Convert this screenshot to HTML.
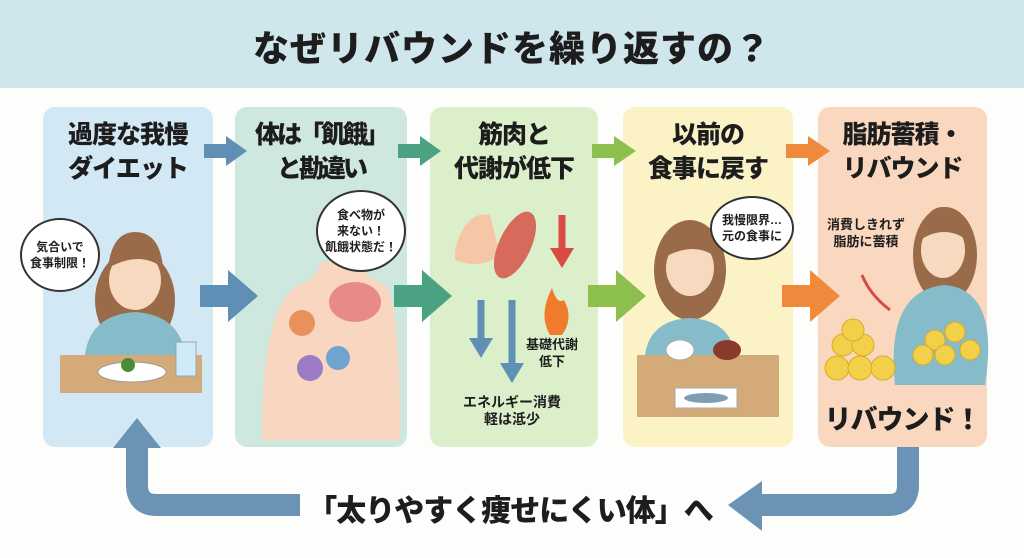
<!DOCTYPE html>
<html><head><meta charset="utf-8"><style>
body{margin:0;width:1024px;height:558px;background:#fdfdfb;position:relative;overflow:hidden;font-family:"Liberation Sans","Noto Sans CJK JP",sans-serif;color:#1d1d1d}
.hdr{position:absolute;left:0;top:0;width:1024px;height:88px;background:#cfe6ec}
.title{position:absolute;left:0;top:20px;width:1024px;text-align:center;font-size:36px;font-weight:900;letter-spacing:1px}
.p{position:absolute;top:107px;height:340px;border-radius:12px}
.h{position:absolute;top:118px;text-align:center;font-size:25px;font-weight:900;line-height:34px;white-space:nowrap;letter-spacing:-1px}
.s{position:absolute;font-size:13px;font-weight:700;text-align:center;line-height:17px;white-space:nowrap}
.bub{position:absolute;background:#fff;border:2px solid #333;border-radius:50%;display:flex;align-items:center;justify-content:center;font-size:12px;font-weight:700;text-align:center;line-height:16px;white-space:nowrap}
</style></head><body>
<div class="hdr"></div>
<div class="title">なぜリバウンドを繰り返すの？</div>
<div class="p" style="left:43px;width:170px;background:#d3e8f5"></div>
<div class="p" style="left:235px;width:172px;background:#cfe8df"></div>
<div class="p" style="left:430px;width:168px;background:#dcefcb"></div>
<div class="p" style="left:623px;width:170px;background:#fbf2c6"></div>
<div class="p" style="left:818px;width:169px;background:#fad8c0"></div>
<div class="h" style="left:43px;width:170px">過度な我慢<br>ダイエット</div>
<div class="h" style="left:235px;width:172px;letter-spacing:-3px">体は「飢餓」<br>と勘違い</div>
<div class="h" style="left:430px;width:168px">筋肉と<br>代謝が低下</div>
<div class="h" style="left:623px;width:170px">以前の<br>食事に戻す</div>
<div class="h" style="left:818px;width:169px">脂肪蓄積・<br>リバウンド</div>
<svg width="1024" height="558" style="position:absolute;left:0;top:0">
<g fill="#5f8fb5"><rect x="204" y="144" width="24" height="14"/><polygon points="226,136 247,151 226,166"/></g>
<g fill="#4aa283"><rect x="398" y="144" width="24" height="14"/><polygon points="420,136 441,151 420,166"/></g>
<g fill="#8dbf4e"><rect x="592" y="144" width="24" height="14"/><polygon points="614,136 636,151 614,166"/></g>
<g fill="#ef8a3c"><rect x="786" y="144" width="24" height="14"/><polygon points="808,136 830,151 808,166"/></g>
<g fill="#5f8fb5"><rect x="200" y="285" width="30" height="22"/><polygon points="228,270 258,296 228,322"/></g>
<g fill="#4aa283"><rect x="394" y="285" width="30" height="22"/><polygon points="422,270 452,296 422,322"/></g>
<g fill="#8dbf4e"><rect x="588" y="285" width="30" height="22"/><polygon points="616,270 646,296 616,322"/></g>
<g fill="#ef8a3c"><rect x="782" y="285" width="30" height="22"/><polygon points="810,270 840,296 810,322"/></g>
<path d="M908 447 V485 Q908 505 888 505 H755" stroke="#6b93b6" stroke-width="22" fill="none"/>
<polygon points="762,481 728,505 762,531" fill="#6b93b6"/>
<path d="M300 505 H157 Q137 505 137 485 V440" stroke="#6b93b6" stroke-width="22" fill="none"/>
<polygon points="113,448 137,418 161,448" fill="#6b93b6"/>
<!-- panel1 -->
<rect x="60" y="355" width="142" height="38" fill="#d4aa78"/>
<ellipse cx="135" cy="300" rx="40" ry="50" fill="#9a6b48"/>
<path d="M85 355 Q90 315 135 312 Q180 315 185 355Z" fill="#86bcc9"/>
<ellipse cx="135" cy="280" rx="26" ry="30" fill="#f7d9bf"/>
<path d="M108 268 Q112 232 135 232 Q160 232 163 268 Q140 250 108 268Z" fill="#9a6b48"/>
<ellipse cx="132" cy="372" rx="34" ry="10" fill="#fff" stroke="#999"/>
<circle cx="128" cy="365" r="7" fill="#4d8a3a"/>
<rect x="176" y="342" width="20" height="34" fill="#cfe9f6" stroke="#8ab"/>
<!-- panel2 -->
<path d="M262 440 Q262 300 300 285 Q320 275 320 262 H360 Q360 275 385 285 Q400 300 400 440Z" fill="#f8d6c0"/>
<ellipse cx="355" cy="302" rx="26" ry="20" fill="#e88a8a"/>
<circle cx="302" cy="323" r="13" fill="#e9915c"/>
<circle cx="310" cy="368" r="13" fill="#9a7bc4"/>
<circle cx="338" cy="358" r="12" fill="#6fa4cf"/>
<!-- panel3 -->
<path d="M455 250 Q465 210 490 215 L500 255 Q480 270 455 260Z" fill="#f6c7a6"/>
<ellipse cx="515" cy="245" rx="16" ry="36" fill="#d86a5c" transform="rotate(25 515 245)"/>
<path d="M562 215 V250" stroke="#d94b42" stroke-width="7"/><polygon points="550,248 574,248 562,268" fill="#d94b42"/>
<path d="M481 300 V340" stroke="#5f8fb5" stroke-width="7"/><polygon points="469,338 493,338 481,358" fill="#5f8fb5"/>
<path d="M512 300 V365" stroke="#5f8fb5" stroke-width="7"/><polygon points="500,363 524,363 512,383" fill="#5f8fb5"/>
<path d="M550 335 Q538 315 552 288 Q557 305 564 300 Q574 318 562 335Z" fill="#f07b2a"/>
<!-- panel4 -->
<rect x="637" y="355" width="142" height="62" fill="#d4aa78"/>
<ellipse cx="690" cy="270" rx="36" ry="50" fill="#9a6b48"/>
<path d="M645 355 Q650 320 690 318 Q730 320 735 355Z" fill="#86bcc9"/>
<ellipse cx="690" cy="268" rx="24" ry="28" fill="#f7d9bf"/>
<path d="M663 258 Q667 222 690 222 Q715 222 717 258 Q695 240 663 258Z" fill="#9a6b48"/>
<ellipse cx="680" cy="350" rx="14" ry="10" fill="#fff" stroke="#aaa"/>
<ellipse cx="727" cy="350" rx="14" ry="10" fill="#8a3a2a"/>
<rect x="675" y="388" width="62" height="20" fill="#fff" stroke="#aaa"/>
<ellipse cx="706" cy="398" rx="22" ry="5" fill="#7f9db4"/>
<!-- panel5 -->
<ellipse cx="945" cy="255" rx="32" ry="48" fill="#9a6b48"/>
<path d="M895 385 Q885 290 945 285 Q1000 290 985 385Z" fill="#86bcc9"/>
<ellipse cx="943" cy="250" rx="22" ry="28" fill="#f7d9bf"/>
<path d="M920 240 Q924 207 943 207 Q965 207 967 240 Q945 224 920 240Z" fill="#9a6b48"/>
<g fill="#f3d04a" stroke="#d9ab24">
<circle cx="843" cy="345" r="11"/><circle cx="863" cy="345" r="11"/><circle cx="853" cy="330" r="11"/>
<circle cx="837" cy="368" r="12"/><circle cx="860" cy="368" r="12"/><circle cx="883" cy="368" r="12"/>
<circle cx="935" cy="340" r="10"/><circle cx="955" cy="332" r="10"/><circle cx="970" cy="350" r="10"/><circle cx="945" cy="355" r="10"/><circle cx="923" cy="355" r="10"/>
</g>
<path d="M862 275 Q870 295 890 310" stroke="#d94b42" stroke-width="3" fill="none"/>
</svg>
<div class="bub" style="left:20px;top:218px;width:76px;height:70px">気合いで<br>食事制限！</div>
<div class="bub" style="left:316px;top:190px;width:86px;height:78px">食べ物が<br>来ない！<br>飢餓状態だ！</div>
<div class="bub" style="left:710px;top:196px;width:80px;height:60px">我慢限界…<br>元の食事に</div>
<div class="s" style="left:824px;top:216px;width:84px">消費しきれず<br>脂肪に蓄積</div>
<div class="s" style="left:524px;top:336px;width:56px">基礎代謝<br>低下</div>
<div class="s" style="left:444px;top:394px;width:136px;font-size:14px">エネルギー消費<br>軽は泜少</div>
<div style="position:absolute;left:818px;top:398px;width:169px;text-align:center;font-size:27px;font-weight:900;white-space:nowrap;letter-spacing:-1px">リバウンド！</div>
<div style="position:absolute;left:290px;top:486px;width:440px;text-align:center;font-size:30px;font-weight:900;white-space:nowrap;letter-spacing:-1px">「太りやすく痩せにくい体」へ</div>
</body></html>
